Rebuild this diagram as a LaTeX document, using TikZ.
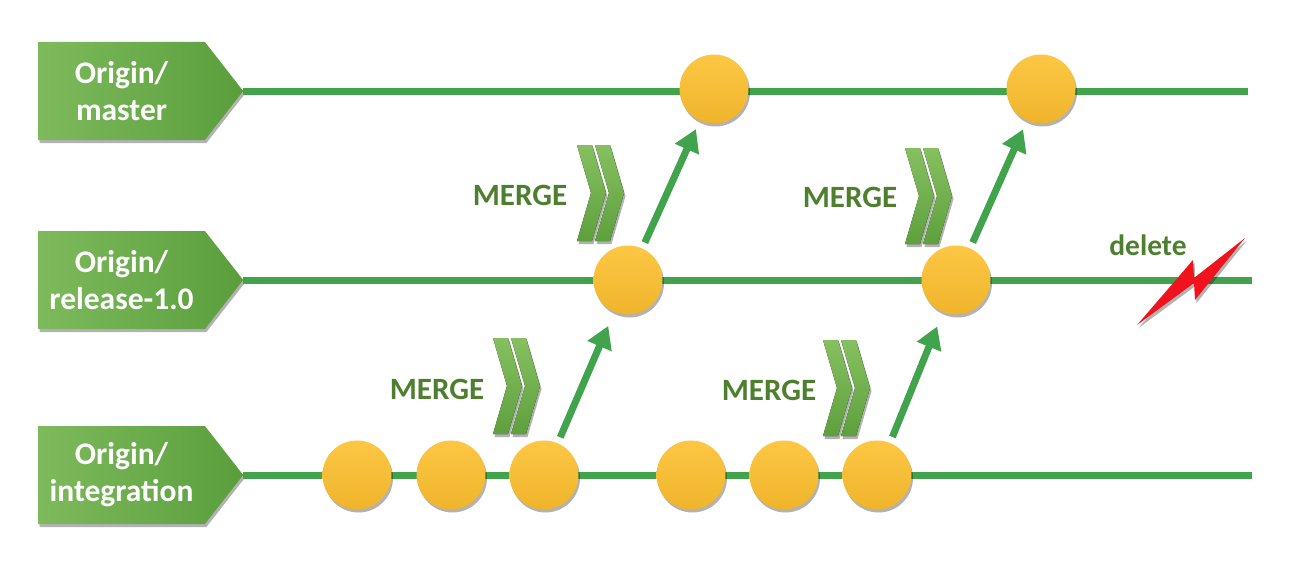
\documentclass[tikz,border=0pt]{standalone}
\usepackage{fontspec}
\setmainfont{Carlito}
\usetikzlibrary{arrows.meta,shadows,shapes.symbols}

\definecolor{branch}{HTML}{41A34B}
\definecolor{mergetxt}{HTML}{4E7F2E}
\definecolor{tagL}{HTML}{7DBA5C}
\definecolor{tagR}{HTML}{5A9E3C}
\definecolor{commitT}{HTML}{FDC744}
\definecolor{commitB}{HTML}{EFB42B}
\definecolor{chevT}{HTML}{86C060}
\definecolor{chevB}{HTML}{5EA03D}
\definecolor{bolt}{HTML}{F0131E}

\tikzset{
  x=1pt, y=-1pt,
  softshadow/.style={drop shadow={shadow xshift=1.5pt, shadow yshift=-3pt, opacity=0.3, fill=black}},
  tag/.style={signal, signal to=east, signal pointer angle=104, anchor=west,
    minimum width=205pt, minimum height=98pt, inner sep=0pt,
    left color=tagL, right color=tagR, text=white, align=center,
    font=\bfseries\fontsize{31.5}{37}\selectfont, softshadow},
  branchline/.style={draw=branch, line width=7pt},
  commit/.style={circle, minimum size=69pt, inner sep=0pt,
    top color=commitT, bottom color=commitB, softshadow},
  mergearrow/.style={draw=branch, line width=7pt,
    -{Triangle[width=25pt,length=22pt]}, shorten <=41pt},
  mergelabel/.style={text=mergetxt, font=\bfseries\fontsize{31}{36}\selectfont},
  mergechev/.pic={
    \foreach \dx in {0,18}{
      \fill[top color=chevT, bottom color=chevB, softshadow]
        (\dx,0) -- (\dx+15,0) -- (\dx+29,48) -- (\dx+15,96) -- (\dx,96) -- (\dx+14,48) -- cycle;
    }
  }
}

\begin{document}
\begin{tikzpicture}
\useasboundingbox (0,0) rectangle (1306,578);

% branch labels
\node[tag] (tm) at (38,91)  {Origin/\\master};
\node[tag] (tr) at (38,280) {Origin/\\release-1.0};
\node[tag] (ti) at (38,475) {Origin/\\integration};

% branch line ends
\coordinate (em) at (1248,91);
\coordinate (er) at (1252,280);
\coordinate (ei) at (1252,475);

\draw[branchline] (tm.east) -- (em);
\draw[branchline] (tr.east) -- (er);
\draw[branchline] (ti.east) -- (ei);

% commits
\node[commit] (m1) at (714,89) {};
\node[commit] (m2) at (1041,89) {};
\node[commit] (r1) at (628,280) {};
\node[commit] (r2) at (956,280) {};
\node[commit] (i1) at (357,475) {};
\node[commit] (i2) at (451,475) {};
\node[commit] (i3) at (544,475) {};
\node[commit] (i4) at (691,475) {};
\node[commit] (i5) at (784,475) {};
\node[commit] (i6) at (877,475) {};

% merges
\draw[mergearrow, shorten >=50pt] (i3.center) -- (r1.center);
\draw[mergearrow, shorten >=50pt] (i6.center) -- (r2.center);
\draw[mergearrow, shorten >=44pt] (r1.center) -- (m1.center);
\draw[mergearrow, shorten >=44pt] (r2.center) -- (m2.center);

\pic at (577,145) {mergechev};
\pic at (905,148) {mergechev};
\pic at (493,338) {mergechev};
\pic at (823,340) {mergechev};

\node[mergelabel] (lm1) at (520,195) {MERGE};
\node[mergelabel] (lm2) at (850,197) {MERGE};
\node[mergelabel] (lm3) at (437,389) {MERGE};
\node[mergelabel] (lm4) at (769,390) {MERGE};

% release branch removal
\node[mergelabel, font=\bfseries\fontsize{29.5}{34}\selectfont] (del) at (1148,245) {delete};
\fill[bolt, softshadow] (1137,325) -- (1193,260) -- (1194,278) -- (1245,238)
  -- (1195,300) -- (1194,283) -- cycle;
\end{tikzpicture}
\end{document}
